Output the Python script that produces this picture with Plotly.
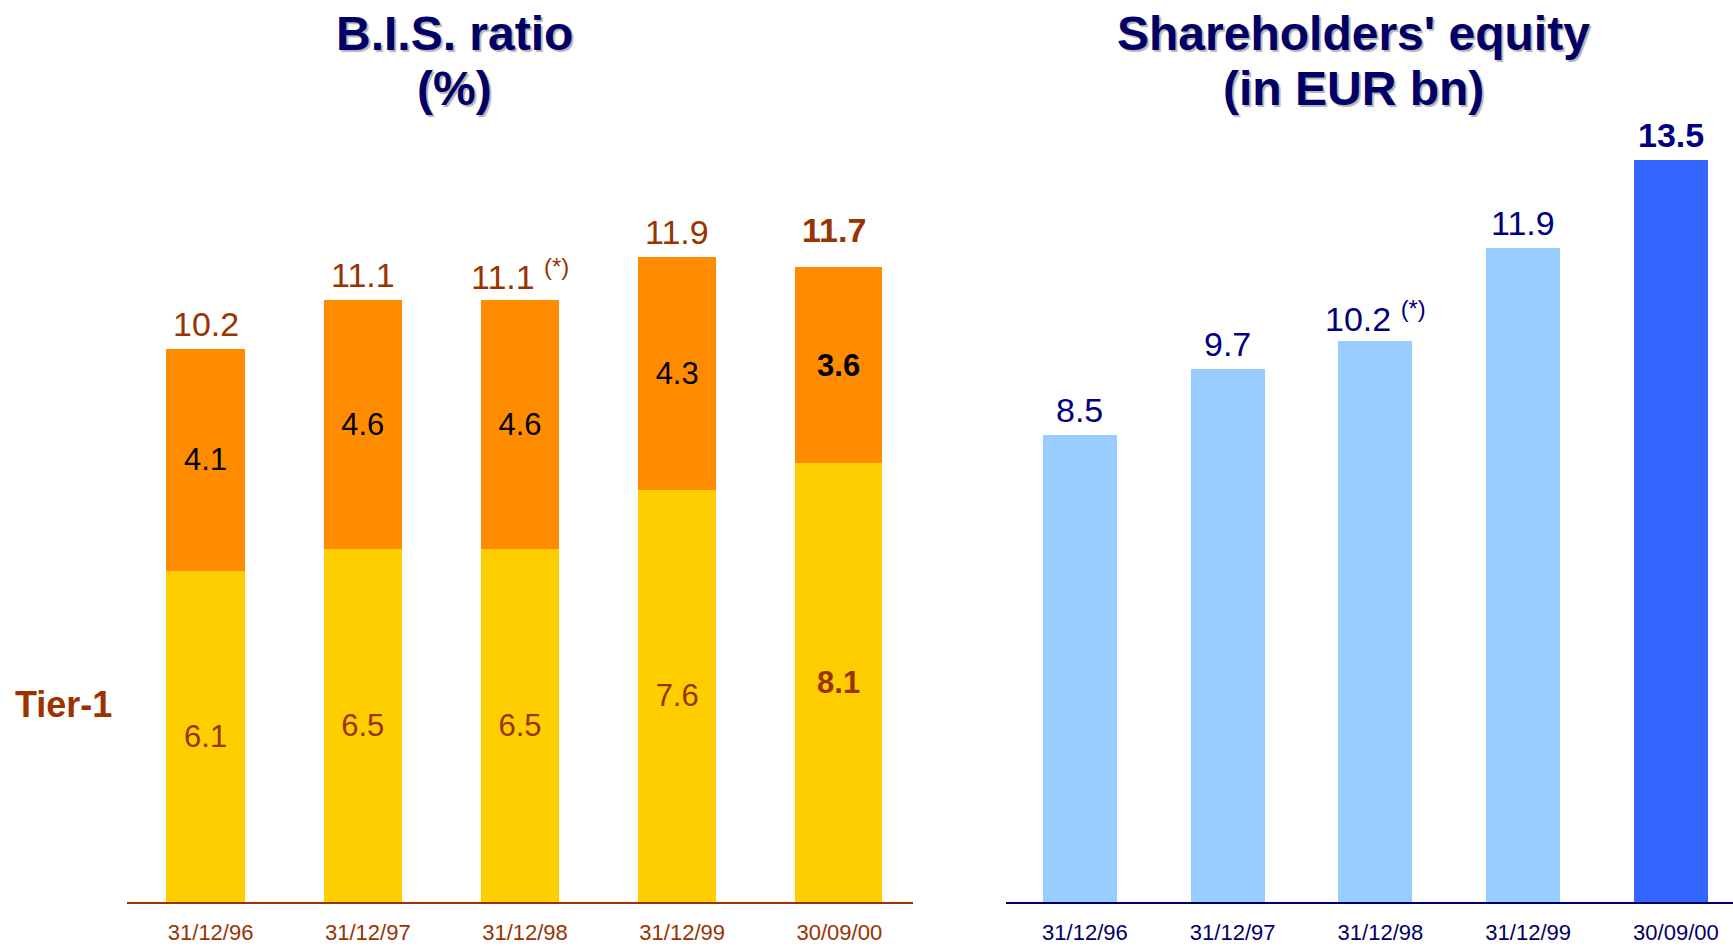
import plotly.graph_objects as go

# ---------------- data ----------------
dates = ["31/12/96", "31/12/97", "31/12/98", "31/12/99", "30/09/00"]
tier1 = [6.1, 6.5, 6.5, 7.6, 8.1]
tier2 = [4.1, 4.6, 4.6, 4.3, 3.6]
bis_total = [10.2, 11.1, 11.1, 11.9, 11.7]
equity = [8.5, 9.7, 10.2, 11.9, 13.5]
footnotes = ["", "", "(*)", "", ""]

# ---------------- styles ----------------
FONT = "Liberation Sans, Arial, sans-serif"
BROWN = "#993300"
NAVY = "#000066"
BLUE_TXT = "#000080"
LATEST = len(dates) - 1
BIS_WIDTHS = [0.5, 0.5, 0.5, 0.5, 0.55]
BIS_OFFSETS = [-0.25, -0.25, -0.25, -0.25, -0.248]


def fmt(v, i):
    s = f"{v:.1f}"
    return f"<b>{s}</b>" if i == LATEST else s


fig = go.Figure()

# Tier-1 (bottom segment)
fig.add_trace(go.Bar(
    x=dates, y=tier1, name="Tier-1",
    marker=dict(color="#FFCE00", line=dict(width=0)),
    width=BIS_WIDTHS, offset=BIS_OFFSETS,
    text=[fmt(v, i) for i, v in enumerate(tier1)],
    textposition="inside", insidetextanchor="middle", textangle=0,
    constraintext="none",
    textfont=dict(family=FONT, size=31, color=BROWN),
    xaxis="x", yaxis="y", hoverinfo="skip",
))
# Tier-2 (upper segment)
fig.add_trace(go.Bar(
    x=dates, y=tier2, name="Tier-2",
    marker=dict(color="#FF8C00", line=dict(width=0)),
    width=BIS_WIDTHS, offset=BIS_OFFSETS,
    text=[fmt(v, i) for i, v in enumerate(tier2)],
    textposition="inside", insidetextanchor="middle", textangle=0,
    constraintext="none",
    textfont=dict(family=FONT, size=31, color="#000000"),
    xaxis="x", yaxis="y", hoverinfo="skip",
))
# Shareholders' equity
fig.add_trace(go.Bar(
    x=dates, y=equity, name="Equity",
    marker=dict(color=["#99CCFF"] * 4 + ["#3366FF"], line=dict(width=0)),
    width=0.5,
    xaxis="x2", yaxis="y2", hoverinfo="skip",
))

annotations = []
# totals above BIS bars
for i, (d, v) in enumerate(zip(dates, bis_total)):
    txt = fmt(v, i)
    if footnotes[i]:
        txt += f" <sup>{footnotes[i]}</sup>"
    annotations.append(dict(
        x=d, y=v, xref="x", yref="y", text=txt, showarrow=False,
        yanchor="middle", yshift=37 if i == LATEST else 25,
        font=dict(family=FONT, size=34, color=BROWN),
    ))
# values above equity bars
for i, (d, v) in enumerate(zip(dates, equity)):
    txt = fmt(v, i)
    if footnotes[i]:
        txt += f" <sup>{footnotes[i]}</sup>"
    annotations.append(dict(
        x=d, y=v, xref="x2", yref="y2", text=txt, showarrow=False,
        yanchor="middle", yshift=25,
        font=dict(family=FONT, size=34, color=BLUE_TXT),
    ))

SHADOW = "2px 2px 1px #B4B4B4"


def title(x, y, text):
    annotations.append(dict(
        x=x, y=y, xref="paper", yref="paper", text=f"<b>{text}</b>",
        showarrow=False, xanchor="center", yanchor="middle",
        font=dict(family=FONT, size=48, color=NAVY, shadow=SHADOW),
    ))


title(0.262, 0.9634, "B.I.S. ratio")
title(0.262, 0.9024, "(%)")
title(0.7813, 0.9634, "Shareholders' equity")
title(0.7813, 0.9024, "(in EUR bn)")

annotations.append(dict(
    x=0.0364, y=0.2195, xref="paper", yref="paper", text="<b>Tier-1</b>",
    showarrow=False, xanchor="center", yanchor="middle",
    font=dict(family=FONT, size=36, color=BROWN),
))

fig.update_layout(
    width=1733, height=947,
    margin=dict(l=0, r=0, t=0, b=45),
    paper_bgcolor="white", plot_bgcolor="white",
    barmode="stack", bargap=0.5, showlegend=False,
    annotations=annotations,
    xaxis=dict(domain=[0.0733, 0.5268], type="category",
               showline=True, linecolor=BROWN, linewidth=1.5,
               showgrid=False, zeroline=False, ticks="",
               ticklabelstandoff=10, ticklabelshift=5, automargin=False,
               tickfont=dict(family=FONT, size=22, color=BROWN)),
    yaxis=dict(range=[0, 16.63], visible=False, fixedrange=True),
    xaxis2=dict(domain=[0.5805, 1.0], type="category", range=[-0.5, 4.42],
                anchor="y2",
                showline=True, linecolor=NAVY, linewidth=2,
                showgrid=False, zeroline=False, ticks="",
                ticklabelstandoff=10, ticklabelshift=5, automargin=False,
                tickfont=dict(family=FONT, size=22, color=NAVY)),
    yaxis2=dict(range=[0, 16.4], visible=False, anchor="x2", fixedrange=True),
)

fig.write_html(
    "out.html",
    config={"displayModeBar": False, "staticPlot": True},
    post_script="document.body.style.margin='0';document.body.style.overflow='hidden';",
)
